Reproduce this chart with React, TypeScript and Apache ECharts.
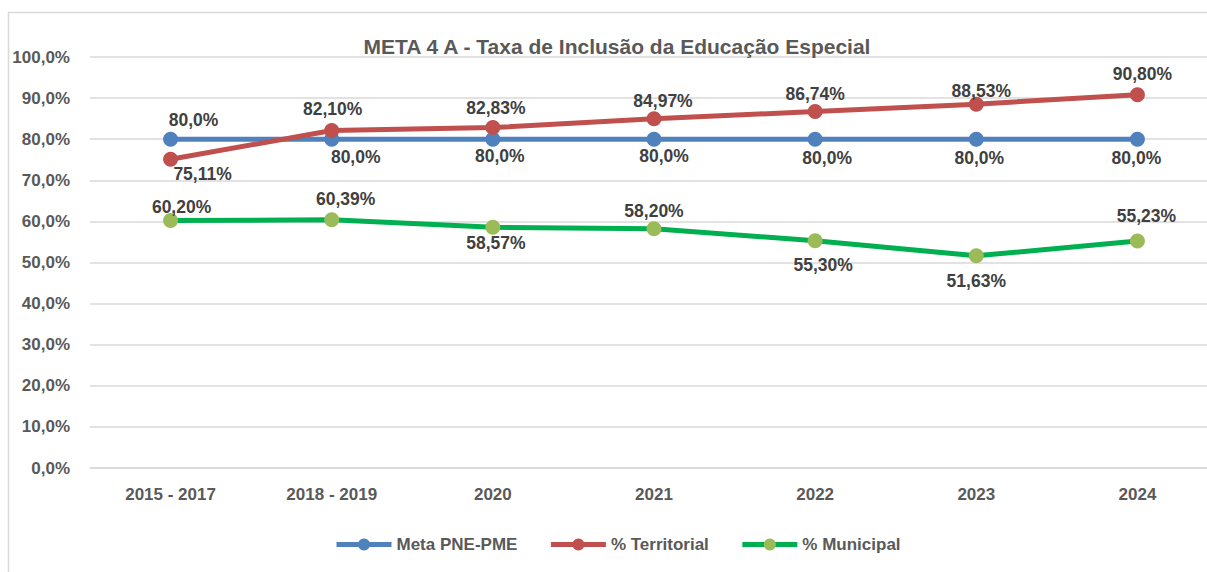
import React, { useEffect, useRef } from "react";
import * as echarts from "echarts";

const categories = ["2015 - 2017", "2018 - 2019", "2020", "2021", "2022", "2023", "2024"];
const metaValues = [80.0, 80.0, 80.0, 80.0, 80.0, 80.0, 80.0];
const territorialValues = [75.11, 82.1, 82.83, 84.97, 86.74, 88.53, 90.8];
const municipalValues = [60.2, 60.39, 58.57, 58.2, 55.3, 51.63, 55.23];
const yTicks = [0, 10, 20, 30, 40, 50, 60, 70, 80, 90, 100];

// label placement (style only)
const metaLabelOffsets = [[23, -19], [24, 18], [7, 17], [10, 17], [12, 19], [3, 19], [-1, 19]];
const territorialLabelOffsets = [[32, 15], [1, -22], [3, -20], [9, -18], [0, -17], [5, -13], [5, -21]];
const municipalLabelOffsets = [[11, -14], [14, -21], [3, 16], [0, -18], [8, 24], [0, 25], [9, -25]];

const FONT = "'Liberation Sans', Arial, sans-serif";
const AXIS_GRAY = "#595959";
const LABEL_GRAY = "#404040";

const fmt1 = (v: number) => v.toFixed(1).replace(".", ",") + "%";
const fmt2 = (v: number) => v.toFixed(2).replace(".", ",") + "%";

function buildData(values: number[], offsets: number[][], formatter: (v: number) => string) {
  return values.map((v, i) => ({
    value: v,
    label: {
      show: true,
      position: "inside",
      offset: offsets[i],
      formatter: () => formatter(v),
    },
  }));
}

export default function App() {
  const ref = useRef<HTMLDivElement>(null);
  useEffect(() => {
    if (!ref.current) return;
    const chart = echarts.init(ref.current, undefined, { renderer: "svg" });
    const labelStyle = {
      fontFamily: FONT,
      fontWeight: "bold",
      fontSize: 17.5,
      color: LABEL_GRAY,
    };
    chart.setOption({
      animation: false,
      backgroundColor: "#ffffff",
      title: {
        text: "META 4 A - Taxa de Inclusão da Educação Especial",
        left: 612,
        top: 31,
        textAlign: "center",
        textStyle: { fontFamily: FONT, fontWeight: "bold", fontSize: 21, color: AXIS_GRAY },
      },
      graphic: [
        {
          type: "rect",
          shape: { x: 8.5, y: 12.5, width: 1300, height: 700 },
          style: { fill: "none", stroke: "#D9D9D9", lineWidth: 1.5 },
          silent: true,
          z: -1,
        },
      ],
      grid: { left: 90, top: 57, height: 411, width: 1128, containLabel: false, outerBoundsMode: "none" },
      legend: {
        left: 329,
        top: 531,
        itemWidth: 55,
        itemHeight: 15,
        itemGap: 31,
        lineStyle: { width: 5 },
        textStyle: { fontFamily: FONT, fontWeight: "bold", fontSize: 17, color: AXIS_GRAY },
        data: ["Meta PNE-PME", "% Territorial", "% Municipal"],
      },
      xAxis: {
        type: "category",
        data: categories,
        boundaryGap: true,
        axisLine: { show: true, lineStyle: { color: "#D9D9D9", width: 1.5 } },
        axisTick: { show: false },
        axisLabel: {
          margin: 18,
          fontFamily: FONT,
          fontWeight: "bold",
          fontSize: 17,
          color: AXIS_GRAY,
        },
      },
      yAxis: {
        type: "value",
        min: yTicks[0],
        max: yTicks[yTicks.length - 1],
        interval: 10,
        axisLine: { show: false },
        axisTick: { show: false },
        splitLine: { lineStyle: { color: "#D9D9D9", width: 1.5 } },
        axisLabel: {
          margin: 20,
          fontFamily: FONT,
          fontWeight: "bold",
          fontSize: 17,
          color: AXIS_GRAY,
          formatter: (v: number) => fmt1(v),
        },
      },
      series: [
        {
          name: "Meta PNE-PME",
          type: "line",
          data: buildData(metaValues, metaLabelOffsets, fmt1),
          symbol: "circle",
          symbolSize: 15,
          lineStyle: { color: "#4F81BD", width: 5 },
          itemStyle: { color: "#4F81BD" },
          label: labelStyle,
          z: 2,
        },
        {
          name: "% Territorial",
          type: "line",
          data: buildData(territorialValues, territorialLabelOffsets, fmt2),
          symbol: "circle",
          symbolSize: 15,
          lineStyle: { color: "#C0504D", width: 5 },
          itemStyle: { color: "#C0504D" },
          label: labelStyle,
          z: 3,
        },
        {
          name: "% Municipal",
          type: "line",
          data: buildData(municipalValues, municipalLabelOffsets, fmt2),
          symbol: "circle",
          symbolSize: 15,
          lineStyle: { color: "#00B050", width: 5 },
          itemStyle: { color: "#9BBB59" },
          label: labelStyle,
          z: 4,
        },
      ],
    });
    return () => chart.dispose();
  }, []);
  return (
    <div
      ref={ref}
      style={{ position: "absolute", left: 0, top: 0, width: 1207, height: 572 }}
    />
  );
}
